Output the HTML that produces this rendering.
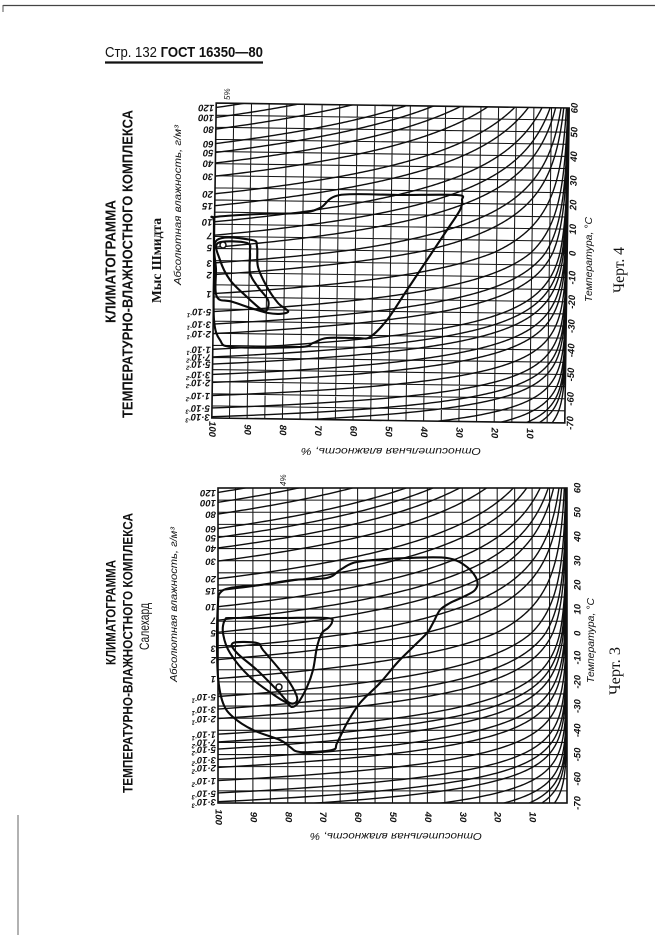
<!DOCTYPE html>
<html><head><meta charset="utf-8">
<style>
html,body{margin:0;padding:0;background:#fff;}
svg{display:block;}
text{font-family:"Liberation Sans","DejaVu Sans",sans-serif;fill:#111;}
.it{font-style:italic;}
.tk{font-style:italic;font-size:9.5px;font-weight:600;}
.ser{font-family:"Liberation Serif","DejaVu Serif",serif;}
</style></head>
<body>
<svg id="s" width="668" height="937" viewBox="0 0 668 937" xmlns="http://www.w3.org/2000/svg">
<defs>
<clipPath id="c1"><rect x="214" y="105.5" width="353" height="315"/></clipPath>
<clipPath id="c2"><rect x="218" y="488" width="349" height="315"/></clipPath>
</defs>
<rect width="668" height="937" fill="#fff"/>
<path d="M3 5.5H655" stroke="#444" stroke-width="1.3" fill="none"/>
<path d="M3 5V12" stroke="#555" stroke-width="1" fill="none"/>
<path d="M18 815V935" stroke="#666" stroke-width="1" fill="none"/>

<text x="105" y="57" font-size="15" textLength="158" lengthAdjust="spacingAndGlyphs">Стр. 132 <tspan font-weight="bold">ГОСТ 16350—80</tspan></text>
<path d="M105 62.5H263" stroke="#111" stroke-width="2.2"/>

<text transform="translate(115.5 323) rotate(-90)" font-weight="bold" font-size="14.5" textLength="123" lengthAdjust="spacingAndGlyphs">КЛИМАТОГРАММА</text>
<text transform="translate(132.5 418) rotate(-90)" font-weight="bold" font-size="14.5" textLength="308" lengthAdjust="spacingAndGlyphs">ТЕМПЕРАТУРНО-ВЛАЖНОСТНОГО  КОМПЛЕКСА</text>
<text class="ser" transform="translate(161 303) rotate(-90)" font-weight="bold" font-size="14" textLength="85" lengthAdjust="spacingAndGlyphs">Мыс Шмидта</text>
<text class="it" transform="translate(181 285) rotate(-90)" font-size="10" textLength="160" lengthAdjust="spacingAndGlyphs">Абсолютная  влажность,  г/м³</text>
<text class="it" transform="translate(230 100) rotate(-90)" font-size="8">5%</text>
<text class="it" transform="translate(592 302) rotate(-90)" font-size="10.5" textLength="85" lengthAdjust="spacingAndGlyphs">Температура, °С</text>
<text class="ser" transform="translate(624 293) rotate(-90)" font-size="16" textLength="46" lengthAdjust="spacingAndGlyphs">Черт. 4</text>
<text class="it" transform="translate(391 451) rotate(180)" text-anchor="middle" dominant-baseline="central" font-size="10.5" textLength="180" lengthAdjust="spacingAndGlyphs">Относительная  влажность, %</text>

<g id="g1" transform="rotate(0.8 390.5 263)">
 <g id="lab1">
  <text class="tk" dominant-baseline="central">120</text><text class="tk" dominant-baseline="central">100</text><text class="tk" dominant-baseline="central">80</text><text class="tk" dominant-baseline="central">60</text><text class="tk" dominant-baseline="central">50</text><text class="tk" dominant-baseline="central">40</text><text class="tk" dominant-baseline="central">30</text><text class="tk" dominant-baseline="central">20</text><text class="tk" dominant-baseline="central">15</text><text class="tk" dominant-baseline="central">10</text><text class="tk" dominant-baseline="central">7</text><text class="tk" dominant-baseline="central">5</text><text class="tk" dominant-baseline="central">3</text><text class="tk" dominant-baseline="central">2</text><text class="tk" dominant-baseline="central">1</text>
  <text class="tk" dominant-baseline="central">5·10<tspan font-size="6" dy="-3">-1</tspan></text><text class="tk" dominant-baseline="central">3·10<tspan font-size="6" dy="-3">-1</tspan></text><text class="tk" dominant-baseline="central">2·10<tspan font-size="6" dy="-3">-1</tspan></text><text class="tk" dominant-baseline="central">1·10<tspan font-size="6" dy="-3">-1</tspan></text><text class="tk" dominant-baseline="central">7·10<tspan font-size="6" dy="-3">-2</tspan></text><text class="tk" dominant-baseline="central">5·10<tspan font-size="6" dy="-3">-2</tspan></text><text class="tk" dominant-baseline="central">3·10<tspan font-size="6" dy="-3">-2</tspan></text><text class="tk" dominant-baseline="central">2·10<tspan font-size="6" dy="-3">-2</tspan></text><text class="tk" dominant-baseline="central">1·10<tspan font-size="6" dy="-3">-2</tspan></text><text class="tk" dominant-baseline="central">5·10<tspan font-size="6" dy="-3">-3</tspan></text><text class="tk" dominant-baseline="central">3·10<tspan font-size="6" dy="-3">-3</tspan></text>
 </g>
 <g id="rh1">
  <text class="tk" text-anchor="middle" dominant-baseline="central">100</text><text class="tk" text-anchor="middle" dominant-baseline="central">90</text><text class="tk" text-anchor="middle" dominant-baseline="central">80</text><text class="tk" text-anchor="middle" dominant-baseline="central">70</text><text class="tk" text-anchor="middle" dominant-baseline="central">60</text><text class="tk" text-anchor="middle" dominant-baseline="central">50</text><text class="tk" text-anchor="middle" dominant-baseline="central">40</text><text class="tk" text-anchor="middle" dominant-baseline="central">30</text><text class="tk" text-anchor="middle" dominant-baseline="central">20</text><text class="tk" text-anchor="middle" dominant-baseline="central">10</text>
 </g>
 <g id="t1">
  <text class="tk" text-anchor="middle" dominant-baseline="central">60</text><text class="tk" text-anchor="middle" dominant-baseline="central">50</text><text class="tk" text-anchor="middle" dominant-baseline="central">40</text><text class="tk" text-anchor="middle" dominant-baseline="central">30</text><text class="tk" text-anchor="middle" dominant-baseline="central">20</text><text class="tk" text-anchor="middle" dominant-baseline="central">10</text><text class="tk" text-anchor="middle" dominant-baseline="central">0</text><text class="tk" text-anchor="middle" dominant-baseline="central">-10</text><text class="tk" text-anchor="middle" dominant-baseline="central">-20</text><text class="tk" text-anchor="middle" dominant-baseline="central">-30</text><text class="tk" text-anchor="middle" dominant-baseline="central">-40</text><text class="tk" text-anchor="middle" dominant-baseline="central">-50</text><text class="tk" text-anchor="middle" dominant-baseline="central">-60</text><text class="tk" text-anchor="middle" dominant-baseline="central">-70</text>
 </g>
</g>

<text transform="translate(115.5 665) rotate(-90)" font-weight="bold" font-size="13.5" textLength="105" lengthAdjust="spacingAndGlyphs">КЛИМАТОГРАММА</text>
<text transform="translate(132.5 793) rotate(-90)" font-weight="bold" font-size="13.5" textLength="280" lengthAdjust="spacingAndGlyphs">ТЕМПЕРАТУРНО-ВЛАЖНОСТНОГО  КОМПЛЕКСА</text>
<text transform="translate(149 650) rotate(-90)" font-size="13.5" textLength="47" lengthAdjust="spacingAndGlyphs">Салехард</text>
<text class="it" transform="translate(177 682) rotate(-90)" font-size="10" textLength="155" lengthAdjust="spacingAndGlyphs">Абсолютная  влажность,  г/м³</text>
<text class="it" transform="translate(286 486) rotate(-90)" font-size="8">4%</text>
<text class="it" transform="translate(594 683) rotate(-90)" font-size="10.5" textLength="85" lengthAdjust="spacingAndGlyphs">Температура, °С</text>
<text class="ser" transform="translate(620 695) rotate(-90)" font-size="16" textLength="48" lengthAdjust="spacingAndGlyphs">Черт. 3</text>
<text class="it" transform="translate(396 836) rotate(180)" text-anchor="middle" dominant-baseline="central" font-size="10.5" textLength="172" lengthAdjust="spacingAndGlyphs">Относительная  влажность, %</text>

<g id="g2">
 <g id="lab2">
  <text class="tk" dominant-baseline="central" font-weight="bold">120</text><text class="tk" dominant-baseline="central" font-weight="bold">100</text><text class="tk" dominant-baseline="central" font-weight="bold">80</text><text class="tk" dominant-baseline="central" font-weight="bold">60</text><text class="tk" dominant-baseline="central" font-weight="bold">50</text><text class="tk" dominant-baseline="central" font-weight="bold">40</text><text class="tk" dominant-baseline="central" font-weight="bold">30</text><text class="tk" dominant-baseline="central" font-weight="bold">20</text><text class="tk" dominant-baseline="central" font-weight="bold">15</text><text class="tk" dominant-baseline="central" font-weight="bold">10</text><text class="tk" dominant-baseline="central">7</text><text class="tk" dominant-baseline="central">5</text><text class="tk" dominant-baseline="central">3</text><text class="tk" dominant-baseline="central">2</text><text class="tk" dominant-baseline="central">1</text>
  <text class="tk" dominant-baseline="central">5·10<tspan font-size="6" dy="-3">-1</tspan></text><text class="tk" dominant-baseline="central">3·10<tspan font-size="6" dy="-3">-1</tspan></text><text class="tk" dominant-baseline="central">2·10<tspan font-size="6" dy="-3">-1</tspan></text><text class="tk" dominant-baseline="central">1·10<tspan font-size="6" dy="-3">-1</tspan></text><text class="tk" dominant-baseline="central">7·10<tspan font-size="6" dy="-3">-2</tspan></text><text class="tk" dominant-baseline="central">5·10<tspan font-size="6" dy="-3">-2</tspan></text><text class="tk" dominant-baseline="central">3·10<tspan font-size="6" dy="-3">-2</tspan></text><text class="tk" dominant-baseline="central">2·10<tspan font-size="6" dy="-3">-2</tspan></text><text class="tk" dominant-baseline="central">1·10<tspan font-size="6" dy="-3">-2</tspan></text><text class="tk" dominant-baseline="central">5·10<tspan font-size="6" dy="-3">-3</tspan></text><text class="tk" dominant-baseline="central">3·10<tspan font-size="6" dy="-3">-3</tspan></text>
 </g>
 <g id="rh2">
  <text class="tk" text-anchor="middle" dominant-baseline="central">100</text><text class="tk" text-anchor="middle" dominant-baseline="central">90</text><text class="tk" text-anchor="middle" dominant-baseline="central">80</text><text class="tk" text-anchor="middle" dominant-baseline="central">70</text><text class="tk" text-anchor="middle" dominant-baseline="central">60</text><text class="tk" text-anchor="middle" dominant-baseline="central">50</text><text class="tk" text-anchor="middle" dominant-baseline="central">40</text><text class="tk" text-anchor="middle" dominant-baseline="central">30</text><text class="tk" text-anchor="middle" dominant-baseline="central">20</text><text class="tk" text-anchor="middle" dominant-baseline="central">10</text>
 </g>
 <g id="t2">
  <text class="tk" text-anchor="middle" dominant-baseline="central">60</text><text class="tk" text-anchor="middle" dominant-baseline="central">50</text><text class="tk" text-anchor="middle" dominant-baseline="central">40</text><text class="tk" text-anchor="middle" dominant-baseline="central">30</text><text class="tk" text-anchor="middle" dominant-baseline="central">20</text><text class="tk" text-anchor="middle" dominant-baseline="central">10</text><text class="tk" text-anchor="middle" dominant-baseline="central">0</text><text class="tk" text-anchor="middle" dominant-baseline="central">-10</text><text class="tk" text-anchor="middle" dominant-baseline="central">-20</text><text class="tk" text-anchor="middle" dominant-baseline="central">-30</text><text class="tk" text-anchor="middle" dominant-baseline="central">-40</text><text class="tk" text-anchor="middle" dominant-baseline="central">-50</text><text class="tk" text-anchor="middle" dominant-baseline="central">-60</text><text class="tk" text-anchor="middle" dominant-baseline="central">-70</text>
 </g>
</g>
<g id="contours"></g>
</svg>
<script>
(function(){
const NS="http://www.w3.org/2000/svg";
function el(tag,attrs,parent){const e=document.createElementNS(NS,tag);for(const k in attrs)e.setAttribute(k,attrs[k]);parent.insertBefore(e,parent.firstChild);return e;}
function add(tag,attrs,parent){const e=document.createElementNS(NS,tag);for(const k in attrs)e.setAttribute(k,attrs[k]);parent.appendChild(e);return e;}
function es(T){return T>=0?6.112*Math.exp(17.62*T/(243.12+T)):6.112*Math.exp(22.46*T/(272.62+T));}
function rho(T){return 216.7*es(T)/(T+273.15);}
function td(a){let lo=-140,hi=100;for(let i=0;i<60;i++){const m=(lo+hi)/2;if(rho(m)<a)lo=m;else hi=m;}return (lo+hi)/2;}
const A=[120,100,80,60,50,40,30,20,15,10,7,5,3,2,1,.5,.3,.2,.1,.07,.05,.03,.02,.01,.005,.003,.002,.001,.0005,.0003,.0002,.0001];
function build(c){
  const g=document.getElementById(c.id);
  const X=r=>c.x0+(100-r)/100*(c.x1-c.x0);
  const Y=T=>c.y0+(60-T)/130*(c.y1-c.y0);
  const gc=el('g',{'clip-path':'url(#'+c.clip+')'},g);
  let d='';
  for(let r=0;r<=100;r+=5){const x=X(r).toFixed(2);d+='M'+x+' '+c.y0+'V'+c.y1;}
  for(let T=-70;T<=60;T+=5){const y=Y(T).toFixed(2);d+='M'+c.x0+' '+y+'H'+c.x1;}
  add('path',{d:d,stroke:'#161616','stroke-width':1.05,fill:'none'},gc);
  let dc='';
  A.forEach(a=>{const t0=td(a);let s='';for(let T=t0;T<=60.5;T+=0.25){const r=Math.min(100,100*a/rho(T));s+=(s?'L':'M')+X(r).toFixed(2)+' '+Y(T).toFixed(2);}dc+=s;});
  add('path',{d:dc,stroke:'#0e0e0e','stroke-width':1.4,fill:'none'},gc);
  add('rect',{x:c.x0,y:c.y0,width:c.x1-c.x0,height:c.y1-c.y0,fill:'none',stroke:'#111','stroke-width':1.6},g);
  const labs=document.getElementById(c.lab).children;
  for(let i=0;i<labs.length;i++){const y=Y(td(A[i]));labs[i].setAttribute('transform','translate('+(c.x0-2)+' '+y.toFixed(1)+') rotate(180)');}
  const rh=document.getElementById(c.rh).children;
  for(let i=0;i<rh.length;i++){const r=100-10*i;rh[i].setAttribute('transform','translate('+X(r).toFixed(1)+' '+(c.y1+c.rhOff)+') rotate(90)');}
  const tt=document.getElementById(c.tl).children;
  for(let i=0;i<tt.length;i++){const T=60-10*i;tt[i].setAttribute('transform','translate('+(c.x1+c.tOff)+' '+Y(T).toFixed(1)+') rotate(-90)');}
}
build({id:'g1',clip:'c1',lab:'lab1',rh:'rh1',tl:'t1',x0:214,x1:567,y0:105.5,y1:420.5,rhOff:11,tOff:6});
build({id:'g2',clip:'c2',lab:'lab2',rh:'rh2',tl:'t2',x0:218,x1:567,y0:488,y1:803,rhOff:14,tOff:11});

function smooth(p){
  const n=p.length;let d='M'+p[0][0]+' '+p[0][1];
  for(let i=0;i<n;i++){
    const p0=p[(i-1+n)%n],p1=p[i],p2=p[(i+1)%n],p3=p[(i+2)%n];
    const c1=[p1[0]+(p2[0]-p0[0])/6,p1[1]+(p2[1]-p0[1])/6];
    const c2=[p2[0]-(p3[0]-p1[0])/6,p2[1]-(p3[1]-p1[1])/6];
    d+='C'+c1[0].toFixed(1)+' '+c1[1].toFixed(1)+' '+c2[0].toFixed(1)+' '+c2[1].toFixed(1)+' '+p2[0]+' '+p2[1];
  }
  return d+'Z';
}
const cg=document.getElementById('contours');
const polys=[
 [[215,217],[260,214],[300,213],[320,208],[340,195],[400,195],[457,195],[462,200],[460,210],[447,230],[427,260],[407,290],[387,320],[370,337],[357,338],[327,338],[313,343],[300,347],[233,347],[220,340],[214,320],[214,270],[214,222]],
 [[217,240],[252,240],[257,247],[258,267],[267,287],[278,303],[288,312],[268,313],[233,302],[217,297],[216,270]],
 [[218,243],[247,243],[250,253],[250,273],[258,287],[268,300],[267,310],[262,310],[247,297],[230,280],[220,260]],
 [[220,593],[230,588],[260,585],[293,580],[327,578],[340,570],[353,563],[373,560],[407,558],[447,558],[467,567],[477,580],[475,590],[463,597],[450,603],[440,610],[433,623],[427,633],[413,647],[397,663],[380,683],[360,703],[347,723],[337,743],[332,750],[300,752],[290,747],[280,740],[253,730],[233,717],[223,703],[218,677],[217,637],[218,603]],
 [[225,620],[233,618],[280,618],[327,618],[332,622],[328,628],[322,633],[317,647],[313,670],[307,687],[298,703],[292,707],[287,703],[277,697],[250,677],[230,653],[223,633]],
 [[233,643],[257,643],[263,650],[280,670],[290,683],[297,697],[295,703],[288,702],[277,690],[257,670],[237,653]]
];
polys.forEach(p=>add('path',{d:smooth(p),fill:'none',stroke:'#0a0a0a','stroke-width':2.1,'stroke-linejoin':'round'},cg));
add('circle',{cx:223,cy:245,r:3,fill:'#fff',stroke:'#111','stroke-width':1.5},cg);
add('circle',{cx:279,cy:687,r:3,fill:'#fff',stroke:'#111','stroke-width':1.5},cg);
})();
</script>
</body></html>
